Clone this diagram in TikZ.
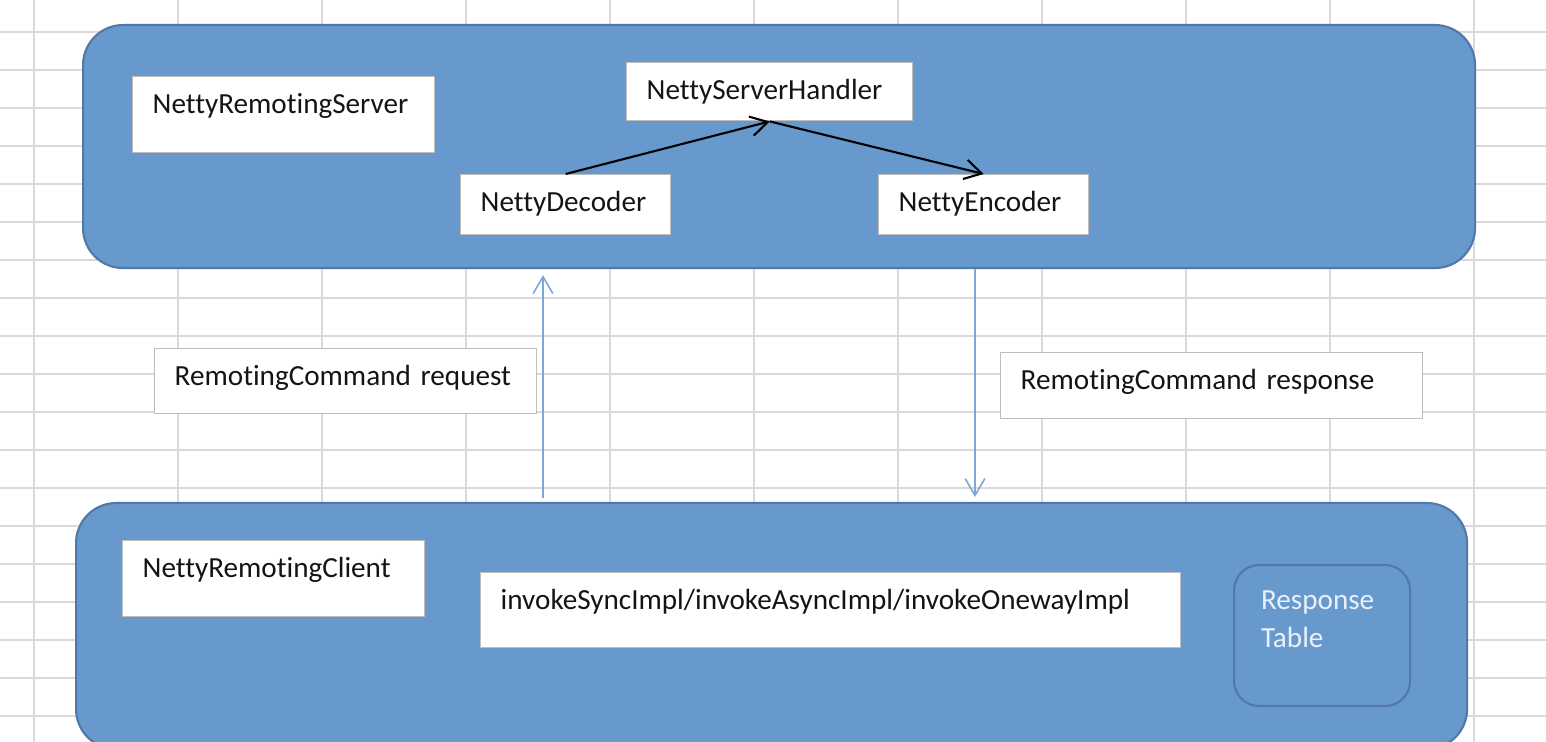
\documentclass[tikz,border=0pt]{standalone}
\usepackage{fontspec}
\setmainfont{Carlito}[Ligatures=NoCommon, WordSpace=0.8]
\usetikzlibrary{arrows.meta}
\definecolor{panel}{RGB}{104,153,205}
\definecolor{panelline}{RGB}{82,120,168}
\definecolor{gridline}{RGB}{217,217,217}
\definecolor{boxline}{RGB}{190,190,190}
\definecolor{link}{RGB}{126,166,216}
\definecolor{ink}{RGB}{20,20,20}
\definecolor{paletext}{RGB}{232,240,250}
\begin{document}
\begin{tikzpicture}[font=\fontsize{8.3}{10.8}\selectfont, >={Straight Barb[length=4.8pt,width=5.6pt]}]
            \useasboundingbox (0,0) rectangle (15.46,-7.42);
            \clip (0,0) rectangle (15.46,-7.42);
            \fill[white] (0,0) rectangle (15.46,-7.42);
            \foreach \i in {0,...,10}
                \draw[gridline, line width=0.55pt] (0.34+1.44*\i,0) -- (0.34+1.44*\i,-7.42);
            \foreach \j in {0,...,18}
                \draw[gridline, line width=0.55pt] (0,-0.32-0.38*\j) -- (15.46,-0.32-0.38*\j);

            \begin{scope}[every node/.style={draw=panelline,fill=panel,line width=0.6pt,rounded corners=0.4cm,anchor=north west,inner sep=0pt}]
                \node[minimum width=13.92cm, minimum height=2.43cm] (server) at (0.82,-0.24) {};
                \node[minimum width=13.91cm, minimum height=2.46cm] (client) at (0.75,-5.02) {};
            \end{scope}

            \begin{scope}[every node/.style={draw=boxline,fill=white,text=ink,line width=0.4pt,anchor=north west,inner xsep=0.2cm,inner ysep=0pt,align=left,text height=0.37cm}]
                \node[text width=2.62cm, text depth=0.39cm] (srv) at (1.32,-0.76) {NettyRemotingServer};
                \node[text width=2.46cm, text depth=0.21cm] (hdl) at (6.26,-0.62) {NettyServerHandler};
                \node[text width=1.70cm, text depth=0.23cm] (dec) at (4.60,-1.74) {NettyDecoder};
                \node[text width=1.70cm, text depth=0.23cm] (enc) at (8.78,-1.74) {NettyEncoder};
                \node[text width=3.42cm, text depth=0.28cm] (req) at (1.54,-3.48) {RemotingCommand request};
                \node[text width=3.82cm, text depth=0.29cm] (resp) at (10.00,-3.52) {RemotingCommand response};
                \node[text width=2.62cm, text depth=0.39cm] (cli) at (1.22,-5.40) {NettyRemotingClient};
                \node[text width=6.60cm, text depth=0.38cm] (inv) at (4.80,-5.72) {invokeSyncImpl/invokeAsyncImpl/invokeOnewayImpl};
                \node[draw=panelline, fill=panel, text=paletext, rounded corners=0.25cm, line width=0.6pt,
                      inner xsep=0.27cm, text width=1.22cm, text height=0.44cm, text depth=0.97cm] (tbl) at (12.33,-5.64) {Response\\Table};
            \end{scope}

            \coordinate (reqx) at (5.43,0);
            \coordinate (respx) at (9.75,0);

            \begin{scope}
                \path [->, line width=0.6pt] (dec.north) edge (hdl.south);
                \path [->, line width=0.6pt] (hdl.south) edge (enc.north);
                \draw [->, link, line width=0.45pt, shorten <=0.04cm, shorten >=0.06cm] (client.north -| reqx) -- (server.south -| reqx);
                \draw [->, link, line width=0.45pt, shorten >=0.05cm] (server.south -| respx) -- (client.north -| respx);
            \end{scope}
            \end{tikzpicture}
\end{document}
